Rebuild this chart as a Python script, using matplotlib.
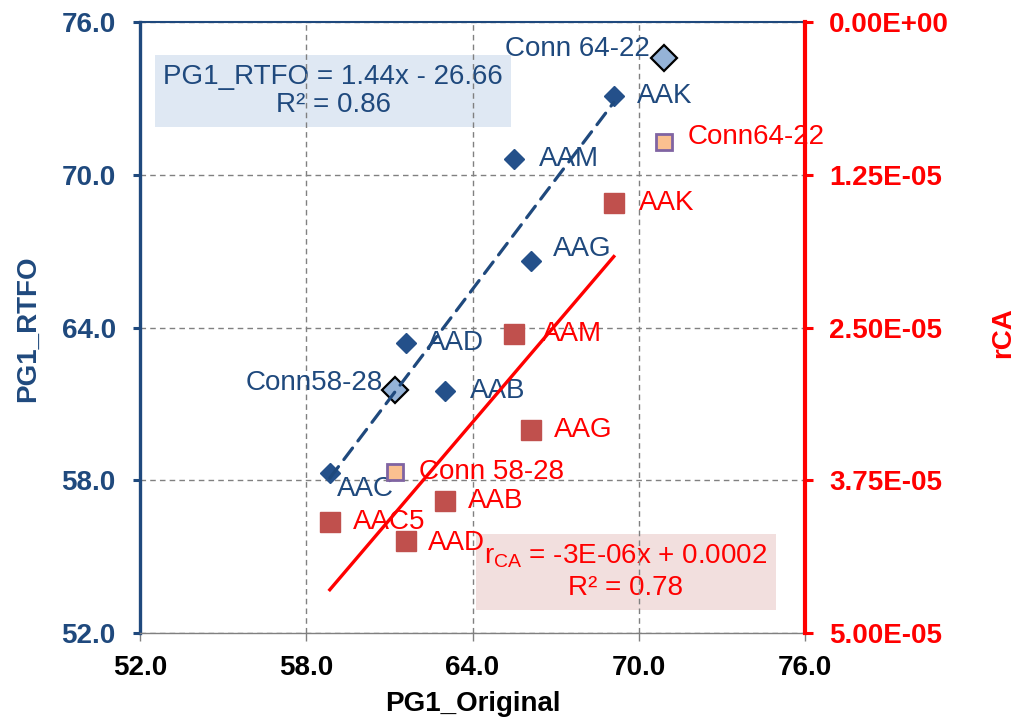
import matplotlib.pyplot as plt
import numpy as np
from matplotlib.ticker import FormatStrFormatter

plt.rcParams['font.family'] = ['Liberation Sans', 'DejaVu Sans']
plt.rcParams['mathtext.fontset'] = 'custom'
plt.rcParams['mathtext.rm'] = 'Liberation Sans'
plt.rcParams['mathtext.it'] = 'Liberation Sans:italic'
plt.rcParams['mathtext.bf'] = 'Liberation Sans:bold'

NAVY = '#1f497d'
RED = '#ff0000'
GRID = '#808080'

# --- data: PG1 on original binder vs. after RTFO, plus rCA on the right axis ---
blue_names = ['AAK', 'AAM', 'AAG', 'AAD', 'AAB', 'AAC']
red_names = ['AAK', 'AAM', 'AAG', 'AAD', 'AAB', 'AAC5']
pg1_original = [69.1, 65.5, 66.1, 61.6, 63.0, 58.85]
pg1_rtfo = [73.1, 70.6, 66.6, 63.4, 61.5, 58.3]
rca = [1.48e-5, 2.55e-5, 3.34e-5, 4.25e-5, 3.92e-5, 4.09e-5]

conn_blue_names = ['Conn 64-22', 'Conn58-28']
conn_red_names = ['Conn64-22', 'Conn 58-28']
conn_original = [70.9, 61.2]
conn_rtfo = [74.6, 61.55]
conn_rca = [9.8e-6, 3.68e-5]

# linear trendlines (slope, intercept) and R^2
rtfo_fit = (1.44, -26.66)
rtfo_r2 = 0.86
rca_fit = (-2.66e-6, 2.03e-4)
rca_r2 = 0.78

# label offsets in points (dx, dy)
blue_offsets = [(17, 0), (18, 0), (16, 9), (15, 0), (18, 0), (5, -11.5)]
red_offsets = [(18, 0), (20, 0), (17, 0), (16, -1), (17, 0), (17, 0)]
conn_blue_offsets = [(-10, 6.5), (-9, 5)]
conn_red_offsets = [(17, 3.5), (17, 0)]

fig = plt.figure(figsize=(10.16, 7.23), dpi=100)
ax = fig.add_axes([140 / 1016, 90 / 723, 665 / 1016, 611 / 723])
ax2 = ax.twinx()

# left axis / x axis
ax.set_xlim(52, 76)
ax.set_ylim(52, 76)
ticks = [52, 58, 64, 70, 76]
ax.set_xticks(ticks)
ax.set_yticks(ticks)
ax.xaxis.set_major_formatter(FormatStrFormatter('%.1f'))
ax.yaxis.set_major_formatter(FormatStrFormatter('%.1f'))
ax.set_axisbelow('line')
ax.grid(True, color=GRID, linestyle=(0, (4, 3)), linewidth=1)

ax.spines['left'].set_color(NAVY)
ax.spines['left'].set_linewidth(2.4)
ax.spines['top'].set_color(NAVY)
ax.spines['top'].set_linewidth(1.5)
ax.spines['bottom'].set_color(GRID)
ax.spines['bottom'].set_linewidth(1)
ax.spines['right'].set_visible(False)

ax.tick_params(axis='y', colors=NAVY, length=5, width=2.2, pad=12.5,
               labelsize=20)
ax.tick_params(axis='x', colors=GRID, length=6, width=1, pad=10,
               labelsize=20, labelcolor='black')
for lbl in ax.get_xticklabels() + ax.get_yticklabels():
    lbl.set_fontweight('bold')

ax.set_xlabel('PG1_Original', fontsize=20, fontweight='bold', color='black',
              va='center')
ax.xaxis.set_label_coords(0.5, (633 - 704) / 611)
ax.set_ylabel('PG1_RTFO', fontsize=20, fontweight='bold', color=NAVY,
              va='center')
ax.yaxis.set_label_coords((28 - 140) / 665, (633 - 329) / 611)

# right axis (rCA, inverted)
ax2.set_ylim(5e-5, 0)
ax2.set_yticks([0, 1.25e-5, 2.5e-5, 3.75e-5, 5e-5])
ax2.yaxis.set_major_formatter(FormatStrFormatter('%.2E'))
for side in ['top', 'bottom', 'left']:
    ax2.spines[side].set_visible(False)
ax2.spines['right'].set_color(RED)
ax2.spines['right'].set_linewidth(3)
ax2.tick_params(axis='y', colors=RED, length=5.5, width=2.2, pad=12,
                labelsize=20)
for lbl in ax2.get_yticklabels():
    lbl.set_fontweight('bold')
ax2.set_ylabel('rCA', fontsize=20, fontweight='bold', color=RED,
               rotation=90, va='center')
ax2.yaxis.set_label_coords((1003 - 140) / 665, (633 - 333) / 611)

# PG1_RTFO series
ax.plot(pg1_original, pg1_rtfo, linestyle='none', marker='D', markersize=10.5,
        color='#24508a', zorder=2)
ax.plot(conn_original, conn_rtfo, linestyle='none', marker='D', markersize=13,
        markerfacecolor='#95b3d7', markeredgecolor='black',
        markeredgewidth=1.6, zorder=2)
for name, x, y, off in zip(blue_names, pg1_original, pg1_rtfo, blue_offsets):
    ax.annotate(name, (x, y), xytext=off, textcoords='offset points',
                ha='left', va='center', fontsize=20, color=NAVY)
for name, x, y, off in zip(conn_blue_names, conn_original, conn_rtfo,
                           conn_blue_offsets):
    ax.annotate(name, (x, y), xytext=off, textcoords='offset points',
                ha='right', va='center', fontsize=20, color=NAVY)

xfit = np.array([min(pg1_original), max(pg1_original)])
ax.plot(xfit, rtfo_fit[0] * xfit + rtfo_fit[1], color=NAVY, linewidth=2.3,
        linestyle=(0, (4.5, 2.8)), dash_capstyle='round', zorder=4)

# rCA series
ax2.plot(pg1_original, rca, linestyle='none', marker='s', markersize=14,
         color='#c0504d', zorder=2)
ax2.plot(conn_original, conn_rca, linestyle='none', marker='s', markersize=12,
         markerfacecolor='#fac090', markeredgecolor='#8064a2',
         markeredgewidth=2, zorder=2)
for name, x, y, off in zip(red_names, pg1_original, rca, red_offsets):
    ax2.annotate(name, (x, y), xytext=off, textcoords='offset points',
                 ha='left', va='center', fontsize=20, color=RED)
for name, x, y, off in zip(conn_red_names, conn_original, conn_rca,
                           conn_red_offsets):
    ax2.annotate(name, (x, y), xytext=off, textcoords='offset points',
                 ha='left', va='center', fontsize=20, color=RED)

ax2.plot(xfit, rca_fit[0] * xfit + rca_fit[1], color=RED, linewidth=2.4,
         zorder=4)

# trendline equations
rtfo_eq = (f'PG1_RTFO = {rtfo_fit[0]:.2f}x - {abs(rtfo_fit[1]):.2f}\n'
           f'R² = {rtfo_r2:.2f}')
ax.text((333 - 140) / 665, (633 - 91) / 611, rtfo_eq, transform=ax.transAxes,
        ha='center', va='center', multialignment='center', fontsize=20,
        color=NAVY, linespacing=1.15, zorder=1,
        bbox=dict(boxstyle='square,pad=0.3', facecolor='#dfe8f3',
                  edgecolor='none'))

rca_eq = (f'r$_{{\\mathrm{{CA}}}}$ = {rca_fit[0]:.0E}x + {rca_fit[1]:.4f}\n'
          f'R² = {rca_r2:.2f}')
ax.text((626 - 140) / 665, (633 - 572) / 611, rca_eq, transform=ax.transAxes,
        ha='center', va='center', multialignment='center', fontsize=20,
        color=RED, linespacing=1.25, zorder=1,
        bbox=dict(boxstyle='square,pad=0.3', facecolor='#f2dfde',
                  edgecolor='none'))

fig.savefig('out.png', dpi=100)
